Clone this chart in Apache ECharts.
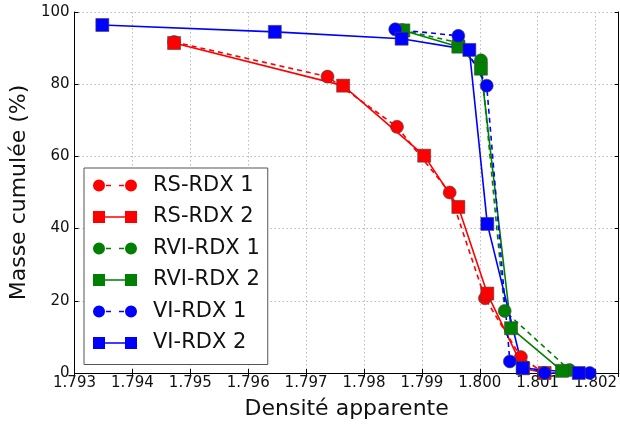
<!DOCTYPE html>
<html>
<head>
<meta charset="utf-8">
<script src="https://cdn.jsdelivr.net/npm/echarts@6/dist/echarts.min.js"></script>
<style>
html,body{margin:0;padding:0;background:#fff;}
#chart{width:620px;height:425px;}
</style>
</head>
<body>
<div id="chart"></div>
<script>
// ---- data ----
const seriesNames = ['RS-RDX 1', 'RS-RDX 2', 'RVI-RDX 1', 'RVI-RDX 2', 'VI-RDX 1', 'VI-RDX 2'];

const densRS1 = [1.79472, 1.79737, 1.79857, 1.79948, 1.80009, 1.80071, 1.80111];
const massRS1 = [91.7, 82.1, 68.2, 50.0, 20.7, 4.4, 0];

const densRS2 = [1.79472, 1.79764, 1.79904, 1.79963, 1.80013, 1.80075, 1.80112];
const massRS2 = [91.4, 79.6, 60.2, 46.0, 22.0, 1.3, 0];

const densRVI1 = [1.79866, 1.79963, 1.80002, 1.80043, 1.80155];
const massRVI1 = [95.0, 91.5, 86.6, 17.2, 0.8];

const densRVI2 = [1.79868, 1.79963, 1.80002, 1.80054, 1.80142];
const massRVI2 = [94.9, 90.4, 84.3, 12.4, 0.6];

const densVI1 = [1.79854, 1.79963, 1.80012, 1.80052, 1.80112, 1.80190];
const massVI1 = [95.2, 93.4, 79.6, 3.2, 0, 0];

const densVI2 = [1.79348, 1.79646, 1.79865, 1.79982, 1.80013, 1.80074, 1.80171];
const massVI2 = [96.4, 94.5, 92.6, 89.5, 41.3, 1.4, 0];

const xTicks = { min: 1.793, max: 1.8024, interval: 0.001 };
const yTicks = { min: 0, max: 100, interval: 20 };

// ---- chart ----
const FONT = 'DejaVu Sans';
const pairs = (xs, ys) => xs.map((x, i) => [x, ys[i]]);

const circleIcon = 'path://M0,6A6,6 0 1,1 12,6A6,6 0 1,1 0,6Z' +
  'M32,6A6,6 0 1,1 44,6A6,6 0 1,1 32,6Z' +
  'M13,5.2L18,5.2L18,6.8L13,6.8Z M26,5.2L31,5.2L31,6.8L26,6.8Z';
const squareIcon = 'path://M0,0L12,0L12,12L0,12Z M32,0L44,0L44,12L32,12Z M12,5.2L32,5.2L32,6.8L12,6.8Z';

function mk(name, xs, ys, color, symbol, dashed) {
  return {
    name: name,
    type: 'line',
    data: pairs(xs, ys),
    symbol: symbol,
    symbolSize: 13,
    showAllSymbol: true,
    clip: true,
    lineStyle: { color: color, width: 1.6, type: dashed ? [5, 4] : 'solid' },
    itemStyle: { color: color, borderColor: '#444', borderWidth: 0.6 },
    emphasis: { disabled: true },
    animation: false
  };
}

const series = [
  mk(seriesNames[0], densRS1, massRS1, '#ff0000', 'circle', true),
  mk(seriesNames[1], densRS2, massRS2, '#ff0000', 'rect', false),
  mk(seriesNames[2], densRVI1, massRVI1, '#008000', 'circle', true),
  mk(seriesNames[3], densRVI2, massRVI2, '#008000', 'rect', false),
  mk(seriesNames[4], densVI1, massVI1, '#0000ff', 'circle', true),
  mk(seriesNames[5], densVI2, massVI2, '#0000ff', 'rect', false)
];

const gridLine = { show: true, lineStyle: { color: '#bbbbbb', type: [1.5, 2.5], width: 1 } };
const blackLine = { show: true, lineStyle: { color: '#000', width: 1 } };
const inTick = { show: true, inside: true, length: 4, lineStyle: { color: '#000' } };

const option = {
  animation: false,
  backgroundColor: '#ffffff',
  grid: { left: 74, right: 1, top: 12, bottom: 50, containLabel: false },
  xAxis: [
    {
      type: 'value', min: xTicks.min, max: xTicks.max, interval: xTicks.interval,
      position: 'bottom',
      axisLine: blackLine, axisTick: inTick, splitLine: gridLine,
      axisLabel: {
        margin: 3, fontFamily: FONT, fontSize: 15, color: '#111',
        showMaxLabel: false,
        formatter: v => (Math.abs(v - xTicks.max) < 1e-9 ? '' : v.toFixed(3))
      },
      name: 'Densité apparente', nameLocation: 'middle', nameGap: 25,
      nameTextStyle: { fontFamily: FONT, fontSize: 22, color: '#111' }
    },
    {
      type: 'value', min: xTicks.min, max: xTicks.max, interval: xTicks.interval,
      position: 'top',
      axisLine: blackLine, axisTick: inTick, splitLine: { show: false },
      axisLabel: { show: false }
    }
  ],
  yAxis: [
    {
      type: 'value', min: yTicks.min, max: yTicks.max, interval: yTicks.interval,
      position: 'left',
      axisLine: blackLine, axisTick: inTick, splitLine: gridLine,
      axisLabel: { margin: 5, fontFamily: FONT, fontSize: 15, color: '#111' },
      name: 'Masse cumulée (%)', nameLocation: 'middle', nameGap: 33,
      nameTextStyle: { fontFamily: FONT, fontSize: 22, color: '#111' }
    },
    {
      type: 'value', min: yTicks.min, max: yTicks.max, interval: yTicks.interval,
      position: 'right',
      axisLine: blackLine, axisTick: inTick, splitLine: { show: false },
      axisLabel: { show: false }
    }
  ],
  legend: {
    orient: 'vertical',
    left: 84, top: 168,
    padding: [7, 8, 11, 9],
    itemGap: 10.5,
    itemWidth: 44, itemHeight: 12,
    backgroundColor: '#ffffff',
    borderColor: '#555', borderWidth: 1, borderRadius: 0,
    selectedMode: false,
    itemStyle: { borderWidth: 0 },
    textStyle: { fontFamily: FONT, fontSize: 21, lineHeight: 21, color: '#111', padding: [0, 0, 0, 11] },
    data: seriesNames.map((n, i) => ({ name: n, icon: i % 2 === 0 ? circleIcon : squareIcon }))
  },
  series: series
};

const chart = echarts.init(document.getElementById('chart'), null, { renderer: 'canvas' });
chart.setOption(option);
</script>
</body>
</html>
